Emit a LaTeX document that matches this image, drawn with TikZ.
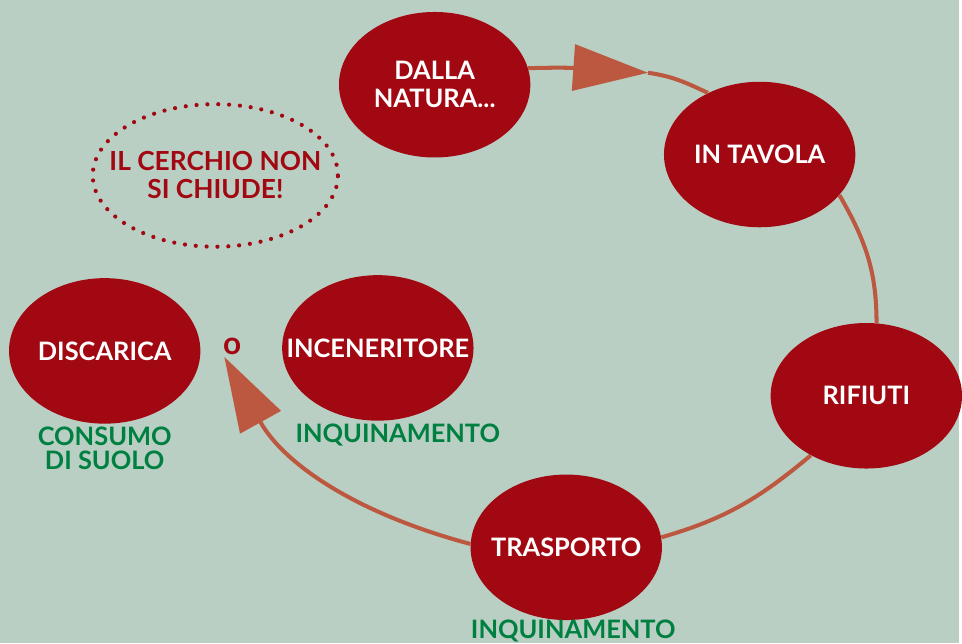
\documentclass[tikz,border=0pt]{standalone}
\usepackage{fontspec}
\setmainfont{Lato}
\usetikzlibrary{shapes.geometric}
\usetikzlibrary{arrows.meta}
\usetikzlibrary{positioning}
\definecolor{sfondo}{RGB}{185,207,195}
\definecolor{rosso}{RGB}{162,8,18}
\definecolor{freccia}{RGB}{188,88,64}
\definecolor{verde}{RGB}{0,128,64}

\begin{document}
\begin{tikzpicture}[x=0.02cm,y=0.02cm,
    main node/.style={ellipse,fill=rosso,text=white,minimum width=3.84cm,minimum height=2.92cm,inner xsep=-25pt,inner ysep=0pt,align=center,font=\fontsize{14.5}{16}\selectfont\bfseries},
    note node/.style={text=verde,align=center,inner sep=0pt,font=\fontsize{14.5}{13.5}\selectfont\bfseries},
    dot node/.style={ellipse,draw=rosso,line width=2.4pt,dash pattern=on 0pt off 6.2pt,line cap=round,text=rosso,minimum width=4.92cm,minimum height=2.86cm,inner xsep=-30pt,inner ysep=0pt,align=center,font=\fontsize{15}{16}\selectfont\bfseries},
    flow line/.style={draw=freccia,line width=2.3pt,-{Triangle[length=1.5cm,width=0.92cm]}}]
   \fill[sfondo] (0,0) rectangle (962,645);
   \begin{scope}
     \node[main node] (dalla) at (436,560) {DALLA\\NATURA...};
     \node[main node] (tavola) at (762,490) {IN TAVOLA};
     \node[main node] (rifiuti) at (869,248) {RIFIUTI};
     \node[main node] (trasporto) at (568,96) {TRASPORTO};
     \node[main node] (discarica) at (105,293) {DISCARICA};
     \node[main node] (inceneritore) at (379,296) {INCENERITORE};
     \node[text=rosso,font=\fontsize{18}{18}\selectfont\bfseries] (o) at (233,298) {o};
     \node[dot node] (cerchio) at (216,469) {IL CERCHIO NON\\SI CHIUDE!};
     %\node[note node] at (105,197) {};
     \node[note node] (consumo) at (105,195) {CONSUMO\\DI SUOLO};
     \node[note node] (inq1) at (399,209) {INQUINAMENTO};
     \node[note node] (inq2) at (575,12) {INQUINAMENTO};
     \coordinate (punta1) at (650,572);
     \coordinate (punta2) at (225,287);
   \end{scope}
   \draw[flow line] (dalla.10) to[out=2,in=176] (punta1);
   \draw[flow line,-] (punta1) to[out=-8,in=155] (tavola.130);
   \draw[flow line,-] (tavola.-27) to[out=-60,in=90] (rifiuti.82);
   \draw[flow line,-] (rifiuti.227) to[out=220,in=16] (trasporto.6);
   \draw[flow line] (trasporto.178) to[out=165,in=-61] (punta2);
\end{tikzpicture}
\end{document}
